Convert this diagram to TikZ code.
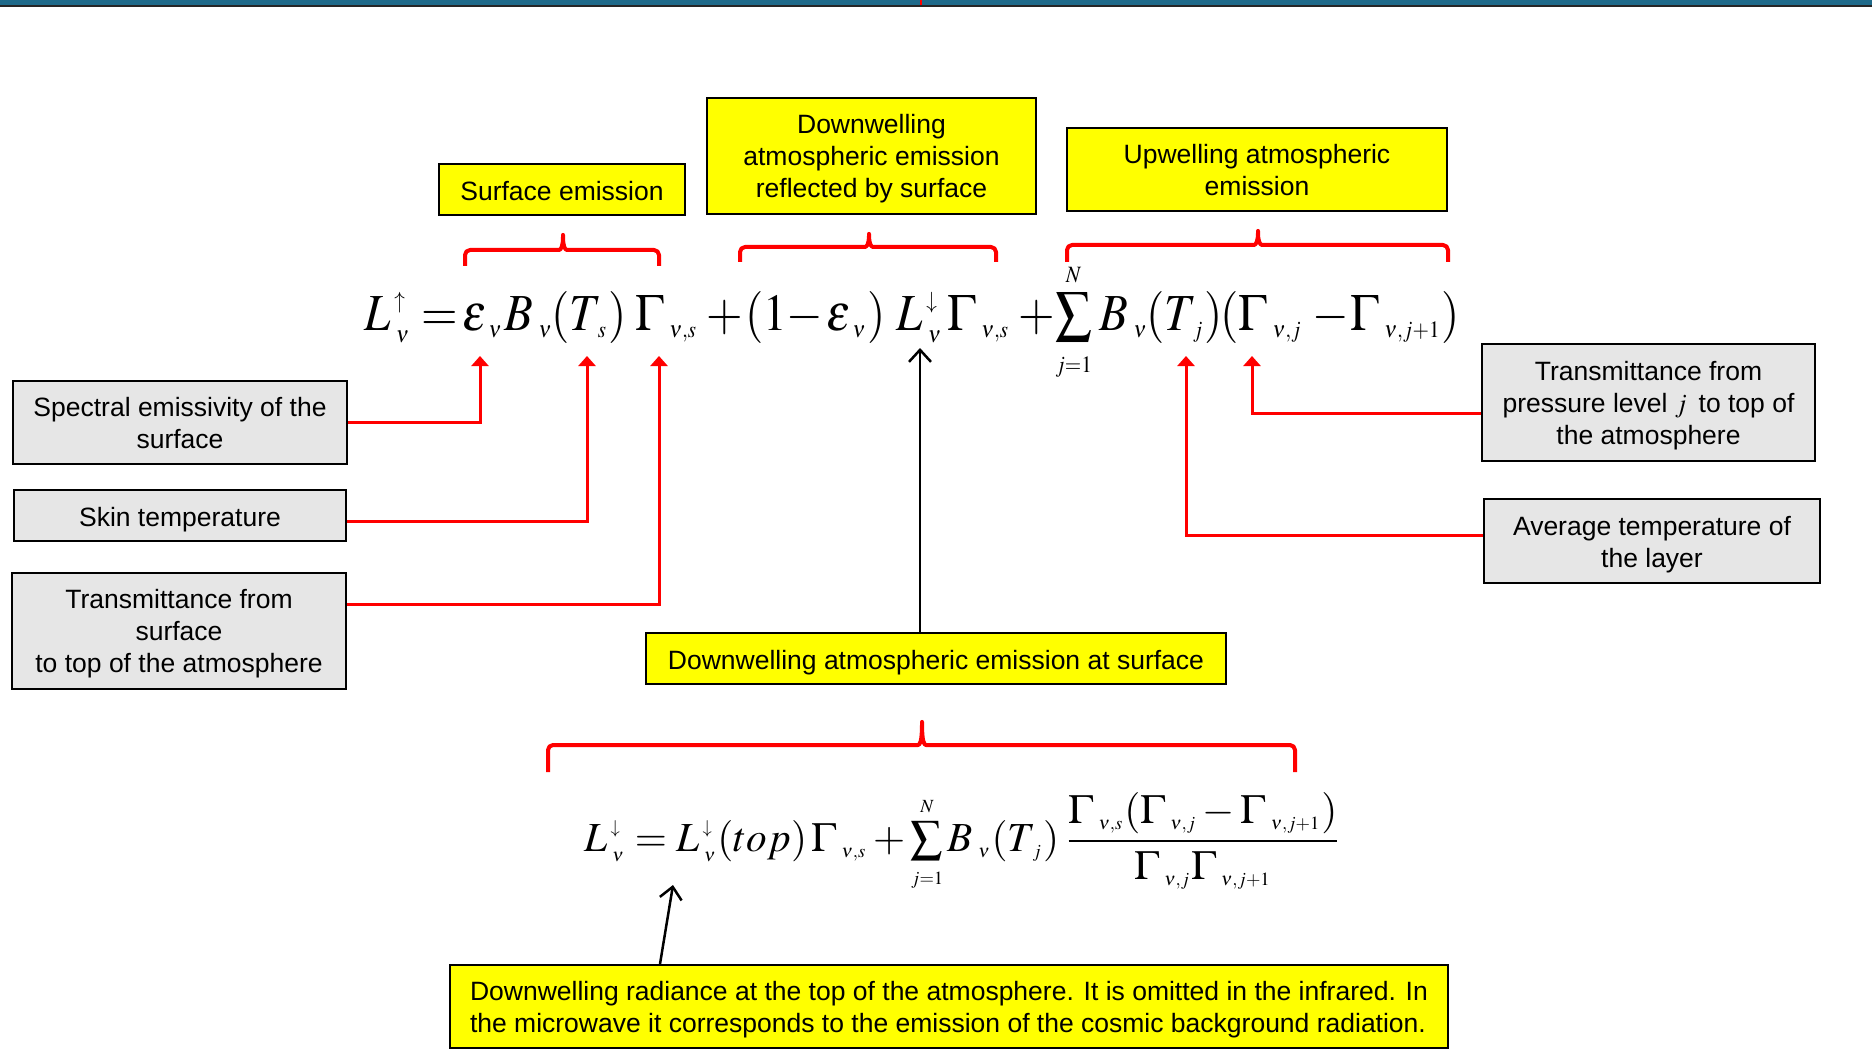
\documentclass[tikz,border=0pt]{standalone}
\usepackage{mathptmx}
\usepackage[no-math]{fontspec}
\newfontfamily\arialf{Liberation Sans}
\usepackage{graphicx}
\usetikzlibrary{arrows.meta}
\definecolor{barteal}{RGB}{31,106,138}
\definecolor{boxyellow}{RGB}{255,255,0}
\definecolor{boxgray}{RGB}{230,230,230}
\newcommand\redbrace[6]{%
  \draw[bracestyle] (#1,#6) -- (#1,#5) -- (#3-9,#5) .. controls (#3-2,#5) and (#3,#5-4) .. (#3,#4)
    .. controls (#3,#5-4) and (#3+2,#5) .. (#3+9,#5) -- (#2,#5) -- (#2,#6);}
\newcommand\tinyss[1]{\hbox{\scalebox{0.75}{$\scriptscriptstyle #1$}}}
\newcommand\sbs[1]{_{\mkern3mu\tinyss{#1}}}
\newcommand\sps[1]{^{\mkern2mu\tinyss{#1}}}
\newcommand\eqpc[4]{\node[eqpiece] (#1) at (#2,#3) {\scalebox{4.7}[5.2]{$\displaystyle #4$}};}
\newcommand\smallsum{\mathop{\vcenter{\hbox{\scalebox{1.1}{$\textstyle\sum$}}}}\limits_{\tinyss{j=1}}^{\tinyss{N}}}
\begin{document}
\begin{tikzpicture}[x=1pt,y=-1pt,
  lbl/.style={draw=black, line width=2pt, font=\arialf\fontsize{26.5}{32}\selectfont, align=center, inner sep=0pt,
    execute at end node={\rule[-6pt]{0pt}{0pt}}},
  lone/.style={execute at begin node={\rule{0pt}{28pt}}},
  ltwo/.style={execute at begin node={\rule{0pt}{58pt}}},
  lthree/.style={execute at begin node={\rule{0pt}{89pt}}},
  ybox/.style={lbl, fill=boxyellow},
  gbox/.style={lbl, fill=boxgray},
  eqpiece/.style={anchor=base west, inner sep=0pt},
  redarrow/.style={draw=red, line width=3pt, -{Triangle[length=10pt,width=17pt]}},
  blackarrow/.style={draw=black, line width=2.5pt, -{Straight Barb[length=12pt,width=22pt]}},
  bracestyle/.style={draw=red, line width=4pt, rounded corners=5pt, line join=round}]
\useasboundingbox (0,0) rectangle (1872,1051);
\fill[white] (0,0) rectangle (1872,1051);
% top bar
\fill[barteal] (0,0) rectangle (1872,5);
\fill[black!85] (0,5) rectangle (1872,7.5);
\draw[red, line width=2pt] (921,0) -- (921,5);

% yellow boxes
\node[ybox, lone, minimum width=246pt, minimum height=51pt] (surf) at (562,189.5) {Surface emission};
\node[ybox, lthree, minimum width=329pt, minimum height=116pt] (refl) at (871.5,156) {Downwelling\\atmospheric emission\\reflected by surface};
\node[ybox, ltwo, minimum width=380pt, minimum height=83pt] (upw) at (1257,169.5) {Upwelling atmospheric\\emission};
\node[ybox, lone, minimum width=580pt, minimum height=51pt] (dsurf) at (936,658.5) {Downwelling atmospheric emission at surface};
\node[ybox, ltwo, minimum width=998pt, minimum height=83pt, align=left] (bot) at (949,1006.5) {Downwelling radiance at the top of the atmosphere. It is omitted in the infrared. In\\the microwave it corresponds to the emission of the cosmic background radiation.};

% gray boxes
\node[gbox, ltwo, minimum width=334pt, minimum height=83pt] (spec) at (180,422.5) {Spectral emissivity of the\\surface};
\node[gbox, lone, minimum width=332pt, minimum height=51pt] (skin) at (180,515.5) {Skin temperature};
\node[gbox, lthree, minimum width=334pt, minimum height=116pt] (trs) at (179,631) {Transmittance from\\surface\\to top of the atmosphere};
\node[gbox, lthree, minimum width=333pt, minimum height=117pt] (trp) at (1648.5,402.5) {Transmittance from\\pressure level $j$\, to top of\\the atmosphere};
\node[gbox, ltwo, minimum width=336pt, minimum height=84pt] (avg) at (1652,541) {Average temperature of\\the layer};

% equation 1 (pieces placed as in the reference)
\eqpc{e1L}{364}{330}{L\sps{\uparrow}\sbs{\nu}}
\eqpc{e1eq}{421}{330}{=}
\eqpc{e1eps}{462}{330}{\varepsilon\sbs{\nu}}
\eqpc{e1B}{504}{330}{B\sbs{\nu}}
\eqpc{e1Ts}{551}{330}{(T\sbs{s})}
\eqpc{e1Gs}{635}{330}{\Gamma\sbs{\nu,s}}
\eqpc{e1pa}{706}{330}{+}
\eqpc{e1one}{745}{330}{(1}
\eqpc{e1mi}{786}{330}{-}
\eqpc{e1eps2}{826}{330}{\varepsilon\sbs{\nu})}
\eqpc{e1Ld}{896}{330}{L\sps{\downarrow}\sbs{\nu}}
\eqpc{e1Gs2}{947}{330}{\Gamma\sbs{\nu,s}}
\eqpc{e1pb}{1018}{330}{+}
\eqpc{e1sum}{1055}{330}{\smallsum}
\eqpc{e1Bj}{1099}{330}{B\sbs{\nu}}
\eqpc{e1Tj}{1146}{330}{(T\sbs{j})}
\eqpc{e1Gj}{1220}{330}{(\Gamma\sbs{\nu,j}}
\eqpc{e1mib}{1312}{330}{-}
\eqpc{e1Gja}{1350}{330}{\Gamma\sbs{\nu,j+1})}

% equation 2
\node[anchor=base west, inner sep=0pt] (eq2) at (584,851) {\resizebox{758pt}{!}{$\displaystyle L\sps{\downarrow}\sbs{\nu} = L\sps{\downarrow}\sbs{\nu}(top)\,\Gamma\sbs{\nu,s} + \smallsum B\sbs{\nu}(T\sbs{j})\,\frac{\Gamma\sbs{\nu,s}(\Gamma\sbs{\nu,j} - \Gamma\sbs{\nu,j+1})}{\Gamma\sbs{\nu,j}\Gamma\sbs{\nu,j+1}}$}};

% braces
\redbrace{465}{659}{563}{232}{250}{266}
\redbrace{740}{996}{869}{231}{247}{262}
\redbrace{1067}{1448}{1258}{228}{245}{262}
\redbrace{548}{1295}{922}{719}{745}{772}

% arrow targets
\coordinate (pEps) at (480,356);
\coordinate (pTs) at (587,356);
\coordinate (pGs) at (659,356);
\coordinate (pTj) at (1186,356);
\coordinate (pGj) at (1252,356);
\coordinate (pL) at (920,348);
\coordinate (pTop) at (673,885);

\draw[redarrow] (spec.east) -| (pEps);
\draw[redarrow] ([yshift=-5.5pt]skin.east) -| (pTs);
\draw[redarrow] ([yshift=27pt]trs.east) -| (pGs);
\draw[redarrow] ([yshift=-10.5pt]trp.west) -| (pGj);
\draw[redarrow] ([yshift=6pt]avg.west) -| (pTj);
\draw[blackarrow] ([xshift=-16pt]dsurf.north) -- (pL);
\draw[blackarrow] ([xshift=-289pt]bot.north) -- (pTop);
\end{tikzpicture}
\end{document}
